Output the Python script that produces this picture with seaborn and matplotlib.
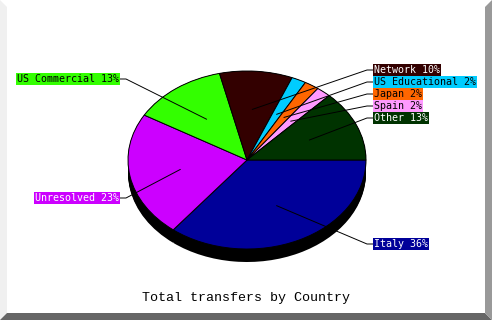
import numpy as np
import matplotlib
matplotlib.use("Agg")
import matplotlib.pyplot as plt
import seaborn as sns
from matplotlib.patches import Polygon

# ---- data ----
countries = ["Italy", "Unresolved", "US Commercial", "Network",
             "US Educational", "Japan", "Spain", "Other"]
shares = [36, 23, 13, 10, 2, 2, 2, 13]
slice_colors = ["#000099", "#cc00ff", "#33ff00", "#330000",
                "#00ccff", "#ff6600", "#ff99ff", "#003300"]
label_text_colors = ["white", "white", "black", "white",
                     "black", "black", "black", "white"]
chart_title = "Total transfers by Country"

# ---- layout (pixels) ----
label_side = ["right", "left", "left", "right", "right", "right", "right", "right"]
label_y_px = [244, 198, 79, 70, 82, 94, 106, 118]
RIGHT_X, LEFT_X = 374, 119

sns.set_theme(style="white")
plt.rcParams["font.family"] = ["DejaVu Sans Mono", "DejaVu Sans"]

W, H = 492, 320
fig = plt.figure(figsize=(W / 100, H / 100), dpi=100)
fig.patch.set_facecolor("white")

CX, CY, RX, RY, DEPTH = 247, 160, 119, 89, 13
ax = fig.add_axes([0, 0, 1, 1])


def px(x, y):
    return ((x - CX) / RX, (CY - y) / RY)


# side of the 3D pie
for k in range(DEPTH + 1):
    ax.pie(shares, colors=["black"] * len(shares), startangle=0,
           counterclock=False, center=(0, -k / RY), radius=1,
           wedgeprops=dict(linewidth=0, zorder=1))

wedges, _ = ax.pie(shares, colors=slice_colors, startangle=0,
                   counterclock=False, center=(0, 0), radius=1,
                   wedgeprops=dict(edgecolor="black", linewidth=0.7, zorder=2))

for w, name, val, col, tcol, side, ly in zip(wedges, countries, shares, slice_colors,
                                             label_text_colors, label_side, label_y_px):
    mid = np.deg2rad((w.theta1 + w.theta2) / 2)
    ix, iy = 0.57 * np.cos(mid), 0.57 * np.sin(mid)
    if side == "right":
        bx, by = px(RIGHT_X, ly)
        ex, ey = px(RIGHT_X - 7, ly)
        ha = "left"
    else:
        bx, by = px(LEFT_X, ly)
        ex, ey = px(LEFT_X + 7, ly)
        ha = "right"
    ax.plot([ix, ex, bx], [iy, ey, by], color="black", lw=0.7, zorder=4)
    ax.text(bx, by, f"{name} {val}%", ha=ha, va="center", color=tcol,
            fontsize=7.2, zorder=5,
            bbox=dict(boxstyle="square,pad=0.08", fc=col, ec="none"))

tx, ty = px(246, 298)
ax.text(tx, ty, chart_title, ha="center", va="center", fontsize=9.6,
        family=["Liberation Mono", "DejaVu Sans Mono"], color="black")

ax.set_aspect("auto")
x0, y0 = px(0, H)
x1, y1 = px(W, 0)
ax.set_xlim(x0, x1)
ax.set_ylim(y0, y1)
ax.axis("off")

# bevelled frame
def fpoly(pts, color):
    fig.add_artist(Polygon([(x / W, 1 - y / H) for x, y in pts], closed=True,
                           transform=fig.transFigure, fc=color, ec="none"))

fpoly([(0, 0), (7, 7), (7, 313), (0, 320)], "#f0f0f0")
fpoly([(0, 320), (7, 313), (485, 313), (492, 320)], "#666666")
fpoly([(485, 7), (492, 0), (492, 320), (485, 313)], "#999999")

fig.savefig("out.png", dpi=100, facecolor="white")
